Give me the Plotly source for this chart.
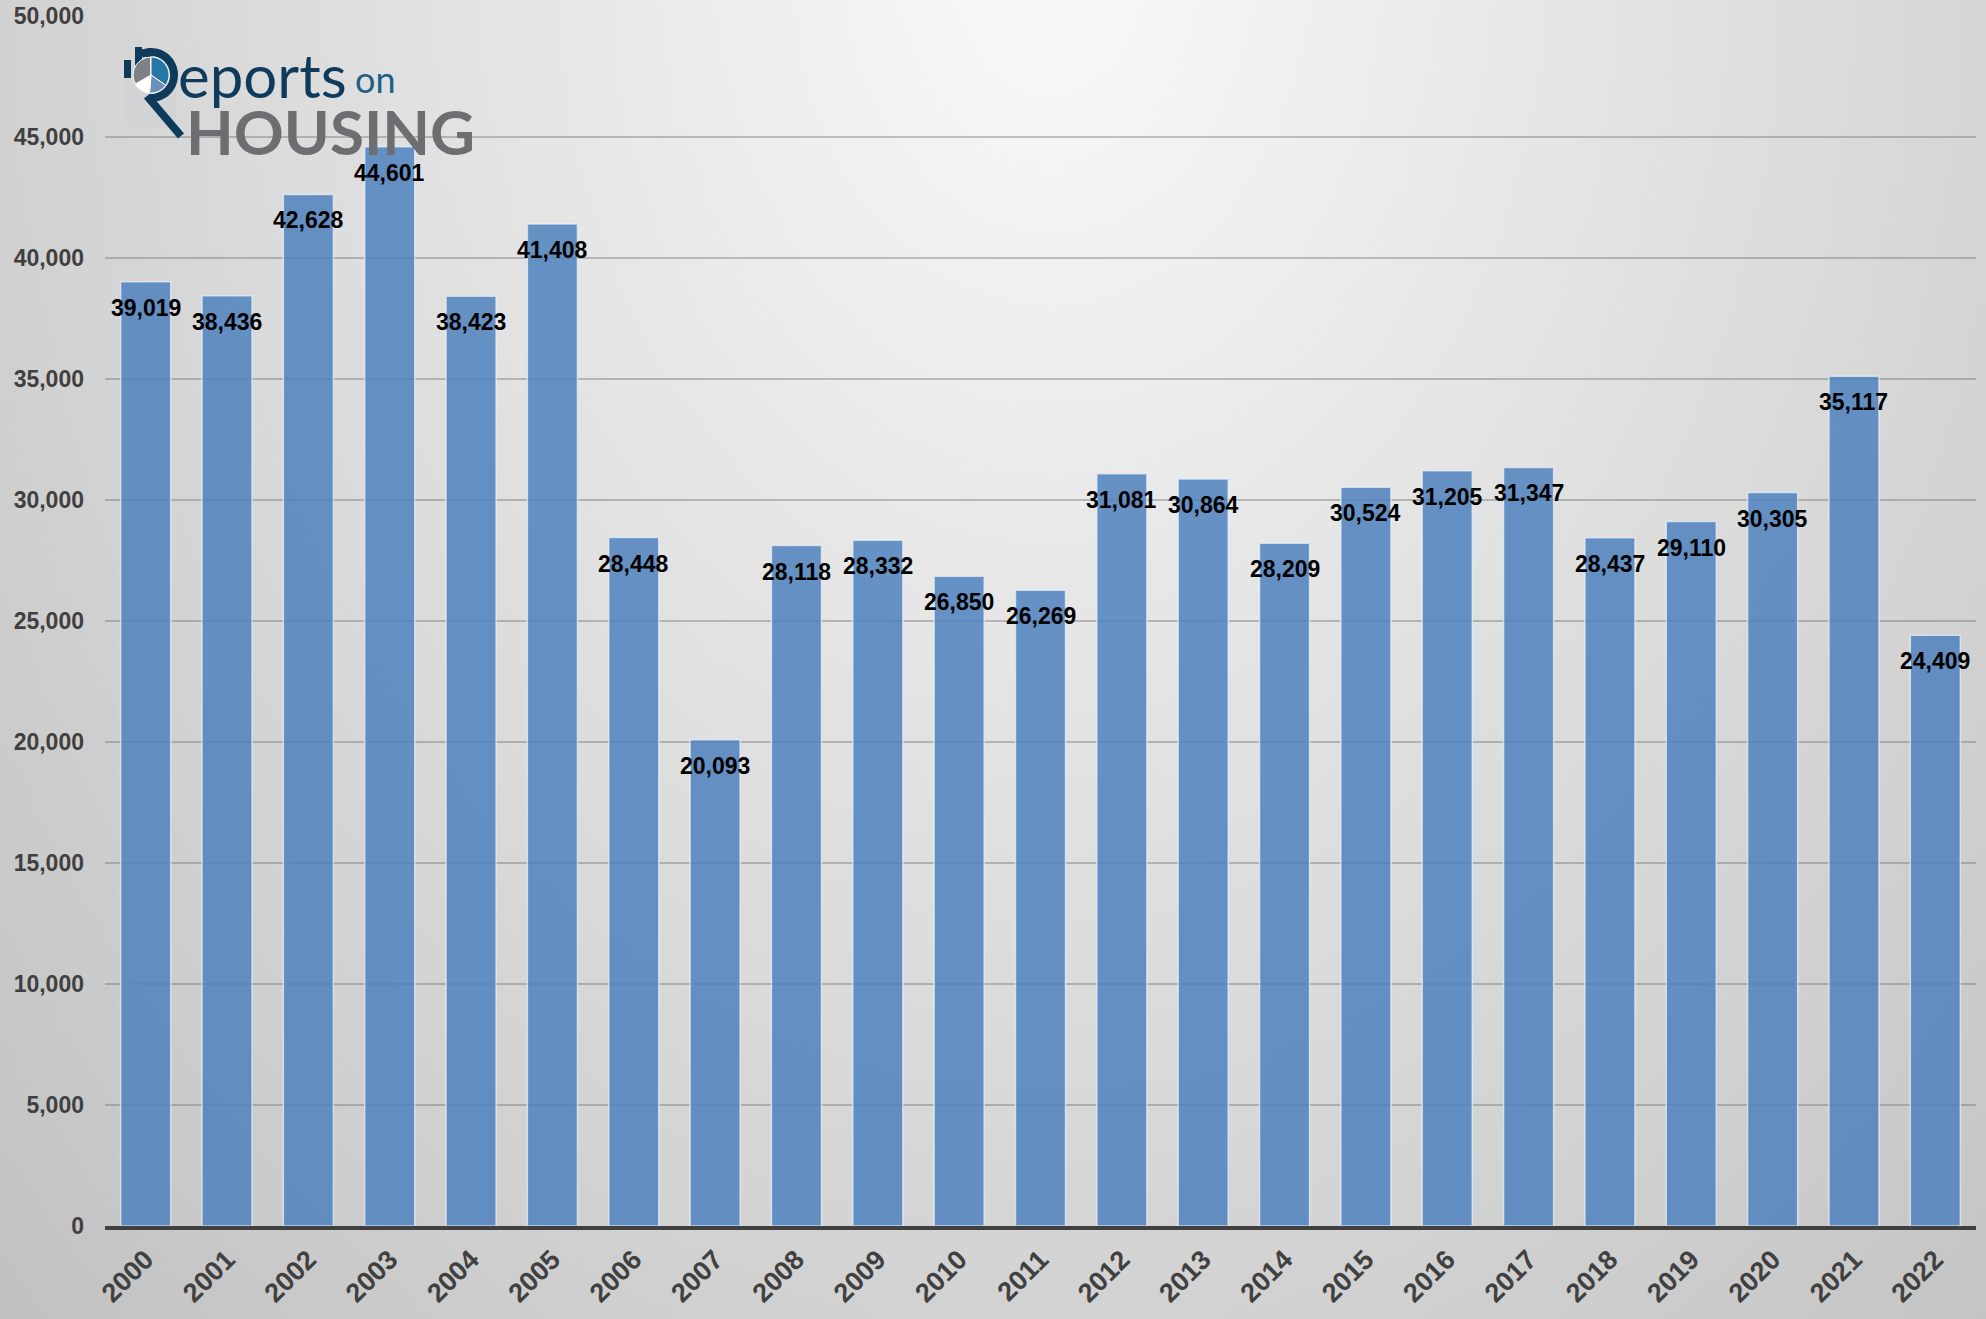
import base64
import math
import struct
import zlib

import numpy as np
import plotly.graph_objects as go

# ---------------- data ----------------
years = [str(y) for y in range(2000, 2023)]
values = [39019, 38436, 42628, 44601, 38423, 41408, 28448, 20093, 28118, 28332,
          26850, 26269, 31081, 30864, 28209, 30524, 31205, 31347, 28437, 29110,
          30305, 35117, 24409]
y_ticks = list(range(0, 50001, 5000))

W, H = 1986, 1319
L, R, T, B = 105, 10, 16, 93
PW, PH = W - L - R, H - T - B


# ---------------- background gradient (generated PNG) ----------------
def make_png(arr):
    h, w, _ = arr.shape
    raw = b"".join(b"\x00" + arr[i].tobytes() for i in range(h))

    def chunk(tag, data):
        c = struct.pack(">I", len(data)) + tag + data
        return c + struct.pack(">I", zlib.crc32(tag + data) & 0xFFFFFFFF)

    png = b"\x89PNG\r\n\x1a\n"
    png += chunk(b"IHDR", struct.pack(">IIBBBBB", w, h, 8, 2, 0, 0, 0))
    png += chunk(b"IDAT", zlib.compress(raw, 9))
    png += chunk(b"IEND", b"")
    return "data:image/png;base64," + base64.b64encode(png).decode()


gw, gh = 300, 200
xs = np.linspace(0, W, gw)
ys = np.linspace(0, H, gh)
X, Y = np.meshgrid(xs, ys)
r = np.sqrt(((X - 1050) / 1050) ** 2 + ((Y + 40) / 1380) ** 2)
c = np.clip(250 - 40 * r, 192, 252).astype(np.uint8)
img = np.stack([c, c, c], axis=-1)
bg_src = make_png(img)


def px(x):
    return (x - L) / PW


def py(y):
    return (H - B - y) / PH


fig = go.Figure()

fig.add_trace(go.Bar(
    x=years, y=values,
    marker=dict(color="rgba(79,129,189,0.85)",
                line=dict(color="rgba(235,242,250,0.7)", width=1.5)),
    hoverinfo="x+y",
))

annotations = []
for i, v in enumerate(values):
    annotations.append(dict(
        x=i, y=v, xref="x", yref="y", text=f"{v:,}", showarrow=False,
        yshift=-26, yanchor="middle", xanchor="center",
        font=dict(family="Liberation Sans, Arial", size=23, color="#000000", weight="bold"),
    ))

# ---------------- logo ----------------
navy = "#0e3b5b"
shapes = []
shapes.append(dict(type="rect", xref="paper", yref="paper", layer="above",
                   x0=px(124), x1=px(176), y0=py(128), y1=py(64),
                   fillcolor="#d3d4d6", line=dict(width=0)))
for (x0, x1, y0) in [(124, 131, 60), (135, 142, 47), (146, 153, 53)]:
    shapes.append(dict(type="rect", xref="paper", yref="paper", layer="above",
                       x0=px(x0), x1=px(x1), y0=py(78), y1=py(y0),
                       fillcolor=navy, line=dict(width=0)))

cx, cy, rp = 151, 75, 18


def wedge(a0, a1, color):
    pts = [(cx, cy)]
    n = 20
    for k in range(n + 1):
        a = math.radians(a0 + (a1 - a0) * k / n)
        pts.append((cx + rp * math.sin(a), cy - rp * math.cos(a)))
    path = "M " + " L ".join(f"{px(x):.5f},{py(y):.5f}" for x, y in pts) + " Z"
    return dict(type="path", xref="paper", yref="paper", layer="above", path=path,
                fillcolor=color, line=dict(color="white", width=1))


shapes.append(wedge(0, 360, "#7f8184"))
shapes.append(wedge(0, 125, "#2777a6"))
shapes.append(wedge(125, 185, "#6b90b9"))
shapes.append(wedge(185, 240, "#ffffff"))

# R bowl arc
arc_pts = []
rb = 23
for k in range(41):
    a = math.radians(-25 + 205 * k / 40)
    arc_pts.append((cx + rb * math.sin(a), cy - rb * math.cos(a)))
arc_path = "M " + " L ".join(f"{px(x):.5f},{py(y):.5f}" for x, y in arc_pts)
shapes.append(dict(type="path", xref="paper", yref="paper", layer="above", path=arc_path,
                   line=dict(color=navy, width=8)))
# R leg / magnifier handle
shapes.append(dict(type="line", xref="paper", yref="paper", layer="above",
                   x0=px(147), y0=py(96), x1=px(181), y1=py(136),
                   line=dict(color=navy, width=8)))

annotations.append(dict(x=px(176), y=py(75), xref="paper", yref="paper", text="eports",
                        showarrow=False, xanchor="left", yanchor="middle",
                        font=dict(family="Lato", size=60, color=navy)))
annotations.append(dict(x=px(353), y=py(79), xref="paper", yref="paper", text="on",
                        showarrow=False, xanchor="left", yanchor="middle",
                        font=dict(family="Lato", size=36, color="#1f5f86")))
annotations.append(dict(x=px(184), y=py(131), xref="paper", yref="paper", text="HOUSING",
                        showarrow=False, xanchor="left", yanchor="middle",
                        font=dict(family="Lato", size=62, color="#6d6e71", weight="bold")))

fig.update_layout(
    width=W, height=H,
    margin=dict(l=L, r=R, t=T, b=B, pad=0),
    paper_bgcolor="#d0d0d0",
    plot_bgcolor="rgba(0,0,0,0)",
    bargap=0.385,
    showlegend=False,
    annotations=annotations,
    shapes=shapes,
    images=[dict(source=bg_src, xref="paper", yref="paper",
                 x=-L / PW, y=1 + T / PH, sizex=W / PW, sizey=H / PH,
                 xanchor="left", yanchor="top", sizing="stretch", layer="below")],
)

fig.update_xaxes(
    type="category", range=[-0.5, len(years) - 0.5], showgrid=False, showline=True,
    linecolor="#404040", linewidth=4, automargin=False,
    tickangle=-45, ticks="", ticklabelstandoff=3,
    tickfont=dict(family="Liberation Sans, Arial", size=27, color="#404040", weight="bold"),
)
fig.update_yaxes(
    range=[0, 50000], tickvals=y_ticks, tickformat=",", showgrid=True, automargin=False,
    gridcolor="rgba(110,110,110,0.4)", gridwidth=1.5, zeroline=False, showline=False,
    ticks="", ticklabelstandoff=20,
    tickfont=dict(family="Liberation Sans, Arial", size=23, color="#404040", weight="bold"),
)

fig.write_html(
    "out.html",
    config={"displayModeBar": False},
    post_script="document.body.style.margin='0';document.body.style.overflow='hidden';",
)
